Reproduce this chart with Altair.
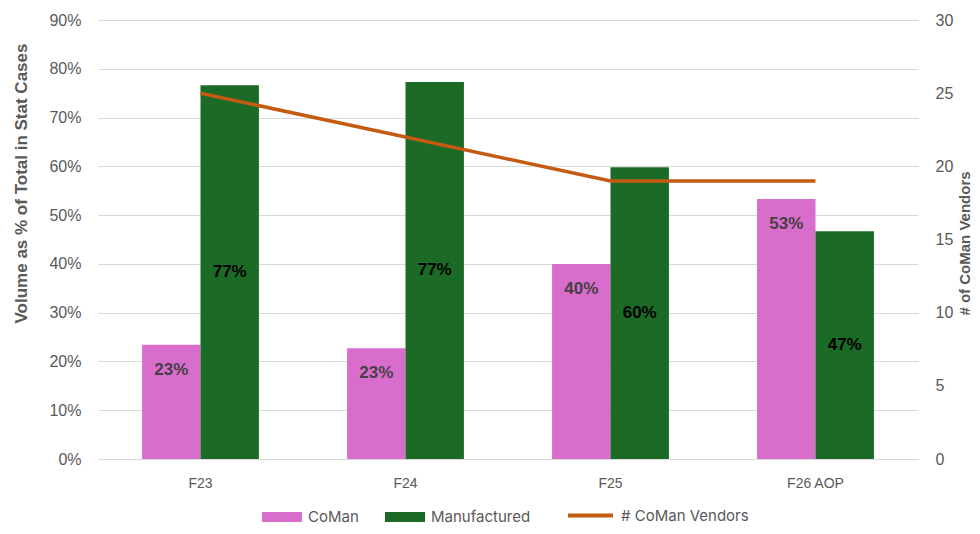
import altair as alt
import pandas as pd

years = ["F23", "F24", "F25", "F26 AOP"]
coman = [0.234, 0.227, 0.400, 0.533]
manufactured = [0.766, 0.773, 0.598, 0.467]
vendors = [25, 22, 19, 19]
bar_series = ["CoMan", "Manufactured"]
bar_colors = ["#D96DCB", "#1B6B26"]
line_series = ["# CoMan Vendors"]
line_colors = ["#C55A11"]
pct_ticks = [0, 0.1, 0.2, 0.3, 0.4, 0.5, 0.6, 0.7, 0.8, 0.9]
vendor_ticks = [0, 5, 10, 15, 20, 25, 30]

bars_df = pd.DataFrame({
    "year": years * 2,
    "series": ["CoMan"] * 4 + ["Manufactured"] * 4,
    "value": coman + manufactured,
})
line_df = pd.DataFrame({"year": years, "lseries": line_series * 4, "vendors": vendors})

FONT = "Liberation Sans"
GREY = "#595959"
LEG_Y = 477

x = alt.X("year:N", sort=years, title=None,
          scale=alt.Scale(paddingInner=0.43, paddingOuter=0.215),
          axis=alt.Axis(labelAngle=0, ticks=False, domain=True, domainColor="#D9D9D9",
                        labelFont=FONT, labelFontSize=14, labelColor=GREY, labelPadding=17))
xoff = alt.XOffset("series:N", sort=bar_series, scale=alt.Scale(paddingInner=0, paddingOuter=0))

fill = alt.Fill("series:N", scale=alt.Scale(domain=bar_series, range=bar_colors), title=None,
                legend=alt.Legend(orient="none", legendX=164, legendY=LEG_Y, direction="horizontal",
                                  labelFont="Inter", labelFontSize=15, labelColor=GREY,
                                  labelOffset=6, columnPadding=26, symbolSize=1600,
                                  symbolType="M-1,-0.25H1V0.25H-1Z", symbolStrokeWidth=0,
                                  symbolOpacity=1))

stroke = alt.Stroke("lseries:N", scale=alt.Scale(domain=line_series, range=line_colors), title=None,
                    legend=alt.Legend(orient="none", legendX=468, legendY=LEG_Y - 6, direction="horizontal",
                                      labelFont="Inter", labelFontSize=15, labelColor=GREY,
                                      labelOffset=6, symbolSize=2025, symbolType="stroke",
                                      symbolStrokeWidth=4, symbolOpacity=1))

yleft = alt.Y("value:Q", scale=alt.Scale(domain=[0, 0.9], nice=False),
              axis=alt.Axis(title="Volume as % of Total in Stat Cases", format=".0%", values=pct_ticks,
                            ticks=False, domain=False, grid=True, gridColor="#D9D9D9",
                            labelFont=FONT, labelFontSize=16, labelColor=GREY, labelPadding=17,
                            titleFont=FONT, titleFontSize=17, titleFontWeight="bold", titleColor=GREY,
                            titleAngle=-90, titleAlign="center", titleBaseline="alphabetic",
                            titleX=-72, titleY=163))

bars = alt.Chart(bars_df).mark_bar().encode(x=x, xOffset=xoff, y=yleft, fill=fill)

coman_text = alt.Chart(bars_df).transform_filter("datum.series === 'CoMan'").mark_text(
    dy=25, font=FONT, fontSize=17, fontWeight="bold", color="#454045"
).encode(x=x, xOffset=xoff, y=alt.Y("value:Q"), text=alt.Text("value:Q", format=".0%"))

man_text = alt.Chart(bars_df).transform_filter("datum.series === 'Manufactured'").transform_calculate(
    mid="datum.value / 2"
).mark_text(font=FONT, fontSize=17, fontWeight="bold", color="#000000").encode(
    x=x, xOffset=xoff, y=alt.Y("mid:Q"), text=alt.Text("value:Q", format=".0%"))

left = alt.layer(bars, coman_text, man_text)

line = alt.Chart(line_df).mark_line(strokeWidth=3.5).encode(
    x=x,
    y=alt.Y("vendors:Q", scale=alt.Scale(domain=[0, 30], nice=False),
            axis=alt.Axis(orient="right", title="# of CoMan Vendors", values=vendor_ticks,
                          ticks=False, domain=False, grid=False,
                          labelFont=FONT, labelFontSize=16, labelColor=GREY, labelPadding=17,
                          titleFont=FONT, titleFontSize=15, titleFontWeight="bold", titleColor=GREY,
                          titleAngle=-90, titleAlign="center", titleBaseline="alphabetic",
                          titleX=51, titleY=223)),
    stroke=stroke,
)

chart = alt.layer(left, line).resolve_scale(y="independent").properties(
    width=820, height=439,
    autosize=alt.AutoSizeParams(type="none"),
    padding={"left": 90, "top": 12, "right": 54, "bottom": 67},
).configure_view(stroke=None)

chart.save("out.html", embed_options={"renderer": "svg", "actions": False})
